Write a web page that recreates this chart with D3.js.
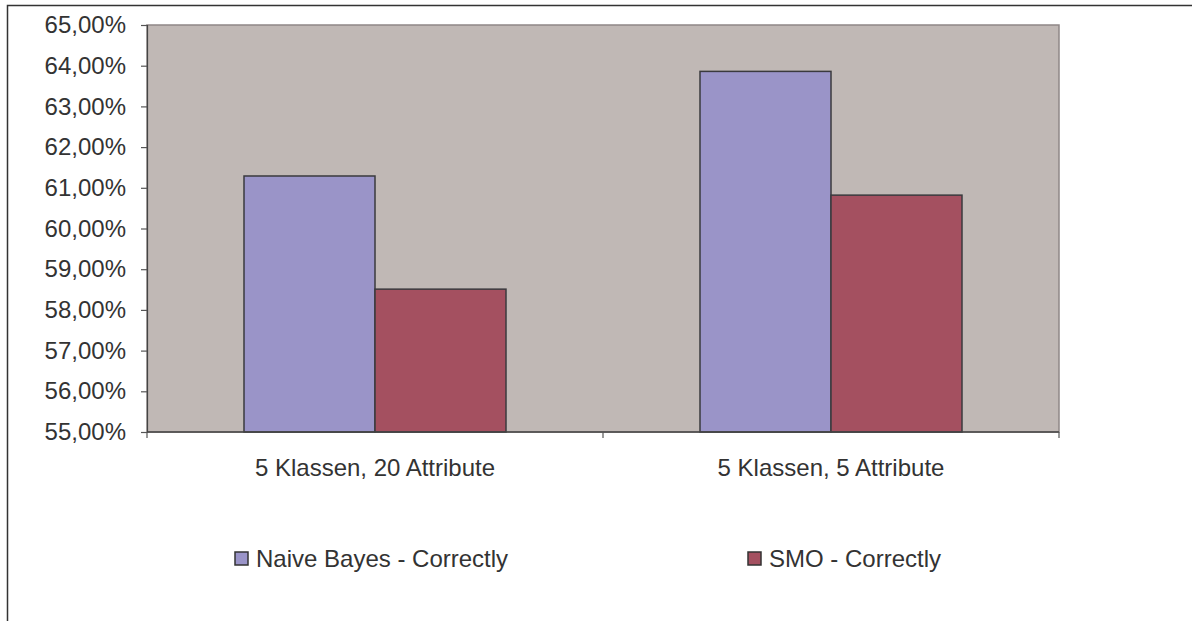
<!DOCTYPE html>
<html>
<head>
<meta charset="utf-8">
<script src="https://cdn.jsdelivr.net/npm/d3@7"></script>
<style>
  html, body { margin: 0; padding: 0; background: #fff; }
  svg { display: block; font-family: "Liberation Sans", Arial, sans-serif; }
</style>
</head>
<body>
<svg id="chart" width="1192" height="621"></svg>
<script>
// Classification accuracy per setting
const categories = ["5 Klassen, 20 Attribute", "5 Klassen, 5 Attribute"];
const seriesNames = ["Naive Bayes - Correctly", "SMO - Correctly"];
const naiveBayes = [0.6129, 0.6386];
const smo = [0.5851, 0.6082];
const yTicks = [0.55, 0.56, 0.57, 0.58, 0.59, 0.60, 0.61, 0.62, 0.63, 0.64, 0.65];
const colors = ["#9a94c8", "#a45060"];

const svg = d3.select("#chart");
const plot = { left: 147, top: 25, right: 1059, bottom: 432 };
const fontSize = 24;

// outer chart frame (runs past the right and bottom edges)
svg.append("rect")
  .attr("x", 7.5).attr("y", 5.5)
  .attr("width", 1300).attr("height", 700)
  .attr("fill", "none").attr("stroke", "#333").attr("stroke-width", 1.5);

const y = d3.scaleLinear().domain([0.55, 0.65]).range([plot.bottom, plot.top]);
const x0 = d3.scaleBand().domain(categories).range([plot.left, plot.right]).paddingInner(0).paddingOuter(0);
const x1 = d3.scaleBand().domain(seriesNames).range([0, 262]);

// plot background
svg.append("rect")
  .attr("x", plot.left).attr("y", plot.top)
  .attr("width", plot.right - plot.left).attr("height", plot.bottom - plot.top)
  .attr("fill", "#c0b8b5").attr("stroke", "#8f8787").attr("stroke-width", 1.5);

const fmt = v => d3.format(".2f")(v * 100).replace(".", ",") + "%";

// y axis
const yAxis = svg.append("g")
  .attr("transform", `translate(${plot.left},0)`)
  .call(d3.axisLeft(y).tickValues(yTicks).tickFormat(fmt).tickSize(6).tickPadding(15));
yAxis.select(".domain").attr("stroke", "#444").attr("stroke-width", 1.2);
yAxis.selectAll(".tick line").attr("stroke", "#555").attr("stroke-width", 1.2);
yAxis.selectAll(".tick text")
  .attr("fill", "#333").attr("font-size", fontSize)
  .attr("font-family", "'Liberation Sans', Arial, sans-serif");

// bars
const series = [naiveBayes, smo];
const groups = svg.append("g").selectAll("g")
  .data(categories)
  .join("g")
  .attr("transform", d => `translate(${x0(d) + (x0.bandwidth() - 262) / 2},0)`);

groups.selectAll("rect")
  .data((d, i) => seriesNames.map((s, j) => ({ s, v: series[j][i], j })))
  .join("rect")
  .attr("x", d => x1(d.s))
  .attr("y", d => y(d.v))
  .attr("width", x1.bandwidth())
  .attr("height", d => plot.bottom - y(d.v))
  .attr("fill", d => colors[d.j])
  .attr("stroke", "#3a3a3e").attr("stroke-width", 1.5);

// x axis
const xAxisLine = d3.scaleLinear().domain([0, 2]).range([plot.left, plot.right]);
const xg = svg.append("g").attr("transform", `translate(0,${plot.bottom})`);
xg.append("line")
  .attr("x1", plot.left).attr("x2", plot.right)
  .attr("stroke", "#444").attr("stroke-width", 1.5);
xg.selectAll("line.tick")
  .data([0, 1, 2])
  .join("line")
  .attr("class", "tick")
  .attr("x1", d => xAxisLine(d)).attr("x2", d => xAxisLine(d))
  .attr("y1", 0).attr("y2", 6)
  .attr("stroke", "#555").attr("stroke-width", 1.2);
xg.selectAll("text")
  .data(categories)
  .join("text")
  .attr("x", d => x0(d) + x0.bandwidth() / 2)
  .attr("y", 44)
  .attr("text-anchor", "middle")
  .attr("fill", "#333").attr("font-size", fontSize)
  .text(d => d);

// legend
const legendX = [235, 748];
const legend = svg.append("g").selectAll("g")
  .data(seriesNames)
  .join("g")
  .attr("transform", (d, i) => `translate(${legendX[i]},552)`);
legend.append("rect")
  .attr("width", 13).attr("height", 13)
  .attr("fill", (d, i) => colors[i])
  .attr("stroke", "#333").attr("stroke-width", 1.5);
legend.append("text")
  .attr("x", 21).attr("y", 15)
  .attr("fill", "#333").attr("font-size", fontSize)
  .text(d => d);
</script>
</body>
</html>
